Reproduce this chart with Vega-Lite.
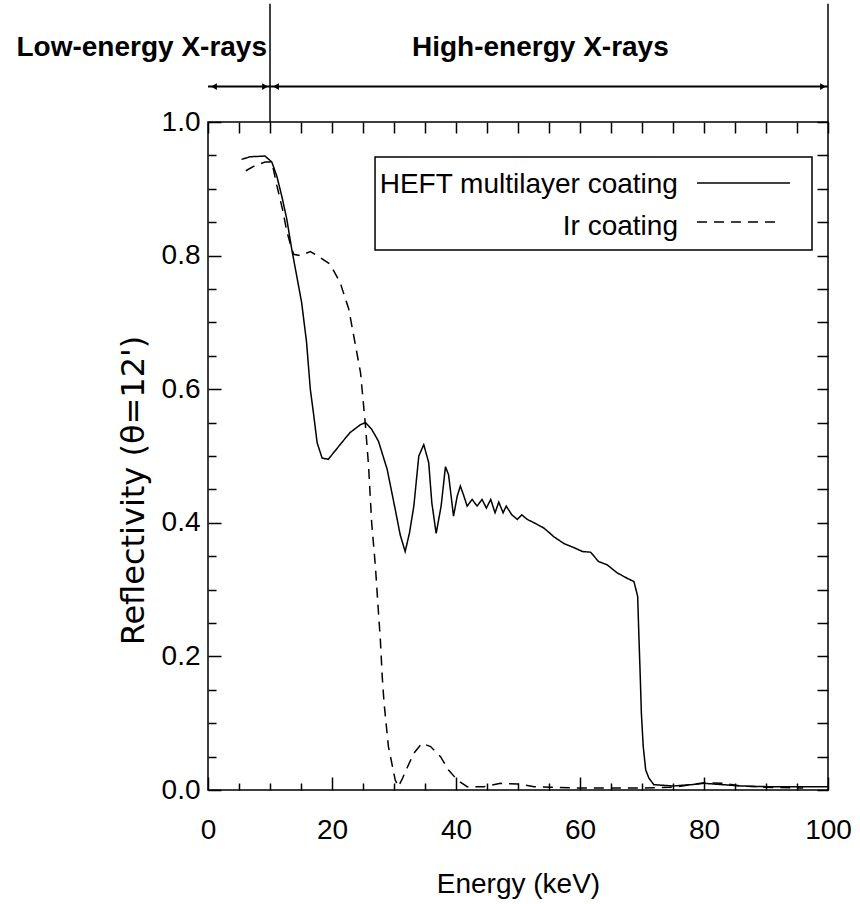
{
  "$schema": "https://vega.github.io/schema/vega-lite/v6.json",
  "width": 620,
  "height": 668,
  "autosize": {"type": "none"},
  "padding": {"left": 208, "top": 122, "right": 32, "bottom": 114},
  "background": "white",
  "config": {
    "view": {"stroke": "black", "strokeWidth": 1.5},
    "font": "Liberation Sans"
  },
  "datasets": {
    "curves": [
      {"coating": "HEFT multilayer coating", "energy": 5.4, "reflectivity": 0.944},
      {"coating": "HEFT multilayer coating", "energy": 6.8, "reflectivity": 0.948},
      {"coating": "HEFT multilayer coating", "energy": 9.2, "reflectivity": 0.949},
      {"coating": "HEFT multilayer coating", "energy": 10.3, "reflectivity": 0.94},
      {"coating": "HEFT multilayer coating", "energy": 11.1, "reflectivity": 0.919},
      {"coating": "HEFT multilayer coating", "energy": 11.9, "reflectivity": 0.889},
      {"coating": "HEFT multilayer coating", "energy": 12.7, "reflectivity": 0.855},
      {"coating": "HEFT multilayer coating", "energy": 13.5, "reflectivity": 0.81},
      {"coating": "HEFT multilayer coating", "energy": 14.3, "reflectivity": 0.77},
      {"coating": "HEFT multilayer coating", "energy": 15.1, "reflectivity": 0.73},
      {"coating": "HEFT multilayer coating", "energy": 15.9, "reflectivity": 0.67},
      {"coating": "HEFT multilayer coating", "energy": 16.5, "reflectivity": 0.6},
      {"coating": "HEFT multilayer coating", "energy": 17.0, "reflectivity": 0.565},
      {"coating": "HEFT multilayer coating", "energy": 17.6, "reflectivity": 0.52},
      {"coating": "HEFT multilayer coating", "energy": 18.4, "reflectivity": 0.497},
      {"coating": "HEFT multilayer coating", "energy": 19.4, "reflectivity": 0.495},
      {"coating": "HEFT multilayer coating", "energy": 21.3, "reflectivity": 0.517},
      {"coating": "HEFT multilayer coating", "energy": 22.9, "reflectivity": 0.535},
      {"coating": "HEFT multilayer coating", "energy": 24.6, "reflectivity": 0.547},
      {"coating": "HEFT multilayer coating", "energy": 25.4, "reflectivity": 0.55},
      {"coating": "HEFT multilayer coating", "energy": 26.4, "reflectivity": 0.54},
      {"coating": "HEFT multilayer coating", "energy": 27.5, "reflectivity": 0.522},
      {"coating": "HEFT multilayer coating", "energy": 28.9, "reflectivity": 0.48},
      {"coating": "HEFT multilayer coating", "energy": 30.2, "reflectivity": 0.42},
      {"coating": "HEFT multilayer coating", "energy": 31.0, "reflectivity": 0.382},
      {"coating": "HEFT multilayer coating", "energy": 31.8, "reflectivity": 0.357},
      {"coating": "HEFT multilayer coating", "energy": 32.5, "reflectivity": 0.385},
      {"coating": "HEFT multilayer coating", "energy": 33.2, "reflectivity": 0.425},
      {"coating": "HEFT multilayer coating", "energy": 34.0, "reflectivity": 0.5},
      {"coating": "HEFT multilayer coating", "energy": 34.8, "reflectivity": 0.517},
      {"coating": "HEFT multilayer coating", "energy": 35.6, "reflectivity": 0.49},
      {"coating": "HEFT multilayer coating", "energy": 36.1, "reflectivity": 0.43},
      {"coating": "HEFT multilayer coating", "energy": 36.8, "reflectivity": 0.384},
      {"coating": "HEFT multilayer coating", "energy": 37.6, "reflectivity": 0.425},
      {"coating": "HEFT multilayer coating", "energy": 38.3, "reflectivity": 0.484},
      {"coating": "HEFT multilayer coating", "energy": 38.8, "reflectivity": 0.472},
      {"coating": "HEFT multilayer coating", "energy": 39.6, "reflectivity": 0.41},
      {"coating": "HEFT multilayer coating", "energy": 40.2, "reflectivity": 0.44},
      {"coating": "HEFT multilayer coating", "energy": 40.7, "reflectivity": 0.455},
      {"coating": "HEFT multilayer coating", "energy": 41.2, "reflectivity": 0.442},
      {"coating": "HEFT multilayer coating", "energy": 41.8, "reflectivity": 0.425},
      {"coating": "HEFT multilayer coating", "energy": 42.6, "reflectivity": 0.435},
      {"coating": "HEFT multilayer coating", "energy": 43.4, "reflectivity": 0.425},
      {"coating": "HEFT multilayer coating", "energy": 44.2, "reflectivity": 0.435},
      {"coating": "HEFT multilayer coating", "energy": 44.9, "reflectivity": 0.422},
      {"coating": "HEFT multilayer coating", "energy": 45.6, "reflectivity": 0.435},
      {"coating": "HEFT multilayer coating", "energy": 46.3, "reflectivity": 0.415},
      {"coating": "HEFT multilayer coating", "energy": 46.9, "reflectivity": 0.431},
      {"coating": "HEFT multilayer coating", "energy": 47.6, "reflectivity": 0.415},
      {"coating": "HEFT multilayer coating", "energy": 48.1, "reflectivity": 0.425},
      {"coating": "HEFT multilayer coating", "energy": 49.0, "reflectivity": 0.412},
      {"coating": "HEFT multilayer coating", "energy": 49.9, "reflectivity": 0.405},
      {"coating": "HEFT multilayer coating", "energy": 50.6, "reflectivity": 0.412},
      {"coating": "HEFT multilayer coating", "energy": 51.5, "reflectivity": 0.405},
      {"coating": "HEFT multilayer coating", "energy": 52.6, "reflectivity": 0.4},
      {"coating": "HEFT multilayer coating", "energy": 54.2, "reflectivity": 0.392},
      {"coating": "HEFT multilayer coating", "energy": 55.8, "reflectivity": 0.379},
      {"coating": "HEFT multilayer coating", "energy": 57.4, "reflectivity": 0.369},
      {"coating": "HEFT multilayer coating", "energy": 59.0, "reflectivity": 0.363},
      {"coating": "HEFT multilayer coating", "energy": 60.4, "reflectivity": 0.357},
      {"coating": "HEFT multilayer coating", "energy": 61.7, "reflectivity": 0.356},
      {"coating": "HEFT multilayer coating", "energy": 63.0, "reflectivity": 0.342},
      {"coating": "HEFT multilayer coating", "energy": 64.4, "reflectivity": 0.337},
      {"coating": "HEFT multilayer coating", "energy": 66.0, "reflectivity": 0.325},
      {"coating": "HEFT multilayer coating", "energy": 67.6, "reflectivity": 0.317},
      {"coating": "HEFT multilayer coating", "energy": 68.7, "reflectivity": 0.312},
      {"coating": "HEFT multilayer coating", "energy": 69.3, "reflectivity": 0.29},
      {"coating": "HEFT multilayer coating", "energy": 69.5, "reflectivity": 0.23},
      {"coating": "HEFT multilayer coating", "energy": 69.7, "reflectivity": 0.175},
      {"coating": "HEFT multilayer coating", "energy": 69.9, "reflectivity": 0.115},
      {"coating": "HEFT multilayer coating", "energy": 70.2, "reflectivity": 0.065},
      {"coating": "HEFT multilayer coating", "energy": 70.6, "reflectivity": 0.03},
      {"coating": "HEFT multilayer coating", "energy": 71.1, "reflectivity": 0.018},
      {"coating": "HEFT multilayer coating", "energy": 71.9, "reflectivity": 0.008},
      {"coating": "HEFT multilayer coating", "energy": 75.0, "reflectivity": 0.006},
      {"coating": "HEFT multilayer coating", "energy": 78.0, "reflectivity": 0.008},
      {"coating": "HEFT multilayer coating", "energy": 80.0, "reflectivity": 0.01},
      {"coating": "HEFT multilayer coating", "energy": 83.0, "reflectivity": 0.008},
      {"coating": "HEFT multilayer coating", "energy": 86.0, "reflectivity": 0.006},
      {"coating": "HEFT multilayer coating", "energy": 90.0, "reflectivity": 0.005},
      {"coating": "HEFT multilayer coating", "energy": 95.0, "reflectivity": 0.005},
      {"coating": "HEFT multilayer coating", "energy": 100.0, "reflectivity": 0.005},
      {"coating": "Ir coating", "energy": 6.1, "reflectivity": 0.927},
      {"coating": "Ir coating", "energy": 7.6, "reflectivity": 0.935},
      {"coating": "Ir coating", "energy": 9.2, "reflectivity": 0.94},
      {"coating": "Ir coating", "energy": 10.3, "reflectivity": 0.94},
      {"coating": "Ir coating", "energy": 11.1, "reflectivity": 0.905},
      {"coating": "Ir coating", "energy": 12.0, "reflectivity": 0.87},
      {"coating": "Ir coating", "energy": 12.7, "reflectivity": 0.837},
      {"coating": "Ir coating", "energy": 13.2, "reflectivity": 0.82},
      {"coating": "Ir coating", "energy": 13.8, "reflectivity": 0.802},
      {"coating": "Ir coating", "energy": 14.9, "reflectivity": 0.8},
      {"coating": "Ir coating", "energy": 16.5, "reflectivity": 0.806},
      {"coating": "Ir coating", "energy": 17.6, "reflectivity": 0.8},
      {"coating": "Ir coating", "energy": 19.7, "reflectivity": 0.787},
      {"coating": "Ir coating", "energy": 21.3, "reflectivity": 0.76},
      {"coating": "Ir coating", "energy": 22.7, "reflectivity": 0.72},
      {"coating": "Ir coating", "energy": 23.7, "reflectivity": 0.67},
      {"coating": "Ir coating", "energy": 24.6, "reflectivity": 0.625},
      {"coating": "Ir coating", "energy": 25.0, "reflectivity": 0.585},
      {"coating": "Ir coating", "energy": 25.4, "reflectivity": 0.545},
      {"coating": "Ir coating", "energy": 25.9, "reflectivity": 0.485},
      {"coating": "Ir coating", "energy": 26.4, "reflectivity": 0.4},
      {"coating": "Ir coating", "energy": 27.0, "reflectivity": 0.335},
      {"coating": "Ir coating", "energy": 27.5, "reflectivity": 0.265},
      {"coating": "Ir coating", "energy": 27.8, "reflectivity": 0.225},
      {"coating": "Ir coating", "energy": 28.1, "reflectivity": 0.17},
      {"coating": "Ir coating", "energy": 28.4, "reflectivity": 0.13},
      {"coating": "Ir coating", "energy": 29.1, "reflectivity": 0.065},
      {"coating": "Ir coating", "energy": 30.2, "reflectivity": 0.015},
      {"coating": "Ir coating", "energy": 30.7, "reflectivity": 0.005},
      {"coating": "Ir coating", "energy": 31.4, "reflectivity": 0.018},
      {"coating": "Ir coating", "energy": 32.1, "reflectivity": 0.033},
      {"coating": "Ir coating", "energy": 33.2, "reflectivity": 0.055},
      {"coating": "Ir coating", "energy": 34.5, "reflectivity": 0.07},
      {"coating": "Ir coating", "energy": 35.9, "reflectivity": 0.065},
      {"coating": "Ir coating", "energy": 37.5, "reflectivity": 0.05},
      {"coating": "Ir coating", "energy": 38.8, "reflectivity": 0.03},
      {"coating": "Ir coating", "energy": 40.2, "reflectivity": 0.015},
      {"coating": "Ir coating", "energy": 41.8, "reflectivity": 0.005},
      {"coating": "Ir coating", "energy": 44.5, "reflectivity": 0.005},
      {"coating": "Ir coating", "energy": 47.2, "reflectivity": 0.01},
      {"coating": "Ir coating", "energy": 49.9, "reflectivity": 0.009},
      {"coating": "Ir coating", "energy": 52.6, "reflectivity": 0.005},
      {"coating": "Ir coating", "energy": 55.3, "reflectivity": 0.004},
      {"coating": "Ir coating", "energy": 60.0, "reflectivity": 0.003},
      {"coating": "Ir coating", "energy": 65.0, "reflectivity": 0.003},
      {"coating": "Ir coating", "energy": 70.0, "reflectivity": 0.003},
      {"coating": "Ir coating", "energy": 75.0, "reflectivity": 0.004},
      {"coating": "Ir coating", "energy": 78.0, "reflectivity": 0.008},
      {"coating": "Ir coating", "energy": 80.0, "reflectivity": 0.011},
      {"coating": "Ir coating", "energy": 83.0, "reflectivity": 0.01},
      {"coating": "Ir coating", "energy": 86.0, "reflectivity": 0.006},
      {"coating": "Ir coating", "energy": 90.0, "reflectivity": 0.004},
      {"coating": "Ir coating", "energy": 96.0, "reflectivity": 0.003}
    ],
    "bands": [
      {"band": "Low-energy X-rays", "from": 0, "to": 10},
      {"band": "High-energy X-rays", "from": 10, "to": 100}
    ]
  },
  "layer": [
    {
      "data": {"name": "curves"},
      "mark": {"type": "line", "color": "black", "strokeWidth": 1.5, "clip": true},
      "encoding": {
        "x": {
          "field": "energy", "type": "quantitative",
          "scale": {"domain": [0, 100]},
          "axis": {
            "orient": "bottom",
            "values": [0, 5, 10, 15, 20, 25, 30, 35, 40, 45, 50, 55, 60, 65, 70, 75, 80, 85, 90, 95, 100],
            "format": "d",
            "labelExpr": "datum.value % 20 === 0 ? datum.label : ''",
            "tickSize": {"condition": {"test": "datum.value % 20 === 0", "value": -13}, "value": -7},
            "tickWidth": 1.5, "tickColor": "black", "domain": false, "grid": false,
            "labelFont": "Liberation Sans", "labelFontSize": 28, "labelColor": "black",
            "labelPadding": 39, "labelOverlap": false, "labelFlush": false,
            "title": "Energy (keV)", "titleFont": "Liberation Sans", "titleFontSize": 28,
            "titleFontWeight": "normal", "titleColor": "black",
            "titleBaseline": "alphabetic", "titleY": 102
          }
        },
        "y": {
          "field": "reflectivity", "type": "quantitative",
          "scale": {"domain": [0, 1]},
          "axis": {
            "orient": "left",
            "values": [0, 0.05, 0.1, 0.15, 0.2, 0.25, 0.3, 0.35, 0.4, 0.45, 0.5, 0.55, 0.6, 0.65, 0.7, 0.75, 0.8, 0.85, 0.9, 0.95, 1],
            "format": ".1f",
            "labelExpr": "abs(datum.value * 5 - round(datum.value * 5)) < 0.001 ? datum.label : ''",
            "tickSize": {"condition": {"test": "abs(datum.value * 5 - round(datum.value * 5)) < 0.001", "value": -13}, "value": -8},
            "tickWidth": 1.5, "tickColor": "black", "domain": false, "grid": false,
            "labelFont": "Liberation Sans", "labelFontSize": 28, "labelColor": "black",
            "labelPadding": 21, "labelOverlap": false, "labelFlush": false,
            "title": "Reflectivity  (θ=12')", "titleFont": "DejaVu Sans", "titleFontSize": 32,
            "titleFontWeight": "normal", "titleColor": "black",
            "titleAngle": -90, "titleAlign": "center", "titleBaseline": "middle",
            "titleX": -75, "titleY": 368
          }
        },
        "strokeDash": {
          "field": "coating", "type": "nominal",
          "scale": {"domain": ["HEFT multilayer coating", "Ir coating"], "range": [[1, 0], [10, 7]]},
          "legend": null
        }
      }
    },
    {
      "data": {"name": "curves"},
      "mark": {"type": "line", "opacity": 0},
      "encoding": {
        "x": {
          "field": "energy", "type": "quantitative", "scale": {"domain": [0, 100]},
          "axis": {
            "orient": "top", "values": [0, 5, 10, 15, 20, 25, 30, 35, 40, 45, 50, 55, 60, 65, 70, 75, 80, 85, 90, 95, 100],
            "labels": false, "tickSize": -11, "tickWidth": 1.5, "tickColor": "black",
            "domain": false, "grid": false, "title": null
          }
        },
        "y": {
          "field": "reflectivity", "type": "quantitative", "scale": {"domain": [0, 1]},
          "axis": {
            "orient": "right", "values": [0, 0.05, 0.1, 0.15, 0.2, 0.25, 0.3, 0.35, 0.4, 0.45, 0.5, 0.55, 0.6, 0.65, 0.7, 0.75, 0.8, 0.85, 0.9, 0.95, 1],
            "labels": false, "tickSize": -11, "tickWidth": 1.5, "tickColor": "black",
            "domain": false, "grid": false, "title": null
          }
        },
        "detail": {"field": "coating"}
      }
    },
    {
      "data": {"name": "curves"},
      "transform": [{"aggregate": [{"op": "count", "as": "n"}]}],
      "mark": {"type": "rect", "fill": "white", "stroke": "black", "strokeWidth": 1.5},
      "encoding": {
        "x": {"datum": 26.94, "scale": {"domain": [0, 100]}, "axis": null},
        "x2": {"datum": 97.42},
        "y": {"datum": 0.9476, "scale": {"domain": [0, 1]}, "axis": null},
        "y2": {"datum": 0.8084}
      }
    },
    {
      "data": {"name": "curves"},
      "transform": [{"filter": "datum.coating === 'HEFT multilayer coating'"}, {"aggregate": [{"op": "count", "as": "n"}], "groupby": ["coating"]}],
      "mark": {"type": "text", "align": "right", "baseline": "alphabetic", "fontSize": 28, "font": "Liberation Sans", "color": "black"},
      "encoding": {
        "x": {"datum": 75.8, "scale": {"domain": [0, 100]}, "axis": null},
        "y": {"datum": 0.8937, "scale": {"domain": [0, 1]}, "axis": null},
        "text": {"field": "coating"}
      }
    },
    {
      "data": {"name": "curves"},
      "transform": [{"filter": "datum.coating === 'Ir coating'"}, {"aggregate": [{"op": "count", "as": "n"}], "groupby": ["coating"]}],
      "mark": {"type": "text", "align": "right", "baseline": "alphabetic", "fontSize": 28, "font": "Liberation Sans", "color": "black"},
      "encoding": {
        "x": {"datum": 75.8, "scale": {"domain": [0, 100]}, "axis": null},
        "y": {"datum": 0.8308, "scale": {"domain": [0, 1]}, "axis": null},
        "text": {"field": "coating"}
      }
    },
    {
      "data": {"name": "curves"},
      "transform": [{"filter": "datum.coating === 'HEFT multilayer coating'"}, {"aggregate": [{"op": "count", "as": "n"}], "groupby": ["coating"]}],
      "mark": {"type": "rule", "color": "black", "strokeWidth": 1.5},
      "encoding": {
        "x": {"datum": 78.87, "scale": {"domain": [0, 100]}, "axis": null},
        "x2": {"datum": 93.87},
        "y": {"datum": 0.9087, "scale": {"domain": [0, 1]}, "axis": null},
        "strokeDash": {"field": "coating", "type": "nominal", "legend": null}
      }
    },
    {
      "data": {"name": "curves"},
      "transform": [{"filter": "datum.coating === 'Ir coating'"}, {"aggregate": [{"op": "count", "as": "n"}], "groupby": ["coating"]}],
      "mark": {"type": "rule", "color": "black", "strokeWidth": 1.5},
      "encoding": {
        "x": {"datum": 78.87, "scale": {"domain": [0, 100]}, "axis": null},
        "x2": {"datum": 92.26},
        "y": {"datum": 0.8503, "scale": {"domain": [0, 1]}, "axis": null},
        "strokeDash": {"field": "coating", "type": "nominal", "legend": null}
      }
    },
    {
      "data": {"name": "bands"},
      "mark": {"type": "rule", "color": "black", "strokeWidth": 1.5},
      "encoding": {
        "x": {"field": "to", "type": "quantitative", "scale": {"domain": [0, 100]}, "axis": null},
        "y": {"datum": 1.0, "scale": {"domain": [0, 1]}, "axis": null},
        "y2": {"datum": 1.177}
      }
    },
    {
      "data": {"name": "bands"},
      "mark": {"type": "rule", "color": "black", "strokeWidth": 2},
      "encoding": {
        "x": {"field": "from", "type": "quantitative", "scale": {"domain": [0, 100]}, "axis": null},
        "x2": {"field": "to"},
        "y": {"datum": 1.053, "scale": {"domain": [0, 1]}, "axis": null}
      }
    },
    {
      "data": {"name": "bands"},
      "mark": {"type": "point", "shape": "triangle-left", "filled": true, "color": "black", "opacity": 1, "size": 45, "xOffset": 6},
      "encoding": {
        "x": {"field": "from", "type": "quantitative", "scale": {"domain": [0, 100]}, "axis": null},
        "y": {"datum": 1.053, "scale": {"domain": [0, 1]}, "axis": null}
      }
    },
    {
      "data": {"name": "bands"},
      "mark": {"type": "point", "shape": "triangle-right", "filled": true, "color": "black", "opacity": 1, "size": 45, "xOffset": -5},
      "encoding": {
        "x": {"field": "to", "type": "quantitative", "scale": {"domain": [0, 100]}, "axis": null},
        "y": {"datum": 1.053, "scale": {"domain": [0, 1]}, "axis": null}
      }
    },
    {
      "data": {"name": "bands"},
      "transform": [{"filter": "datum.band === 'Low-energy X-rays'"}],
      "mark": {"type": "text", "align": "right", "baseline": "alphabetic", "dx": -3, "font": "Liberation Sans", "fontWeight": "bold", "fontSize": 28, "color": "black"},
      "encoding": {
        "x": {"field": "to", "type": "quantitative", "scale": {"domain": [0, 100]}, "axis": null},
        "y": {"datum": 1.099, "scale": {"domain": [0, 1]}, "axis": null},
        "text": {"field": "band"}
      }
    },
    {
      "data": {"name": "bands"},
      "transform": [{"filter": "datum.band === 'High-energy X-rays'"}],
      "mark": {"type": "text", "align": "left", "baseline": "alphabetic", "dx": 142, "font": "Liberation Sans", "fontWeight": "bold", "fontSize": 28, "color": "black"},
      "encoding": {
        "x": {"field": "from", "type": "quantitative", "scale": {"domain": [0, 100]}, "axis": null},
        "y": {"datum": 1.099, "scale": {"domain": [0, 1]}, "axis": null},
        "text": {"field": "band"}
      }
    }
  ],
  "resolve": {"axis": {"x": "independent", "y": "independent"}}
}
